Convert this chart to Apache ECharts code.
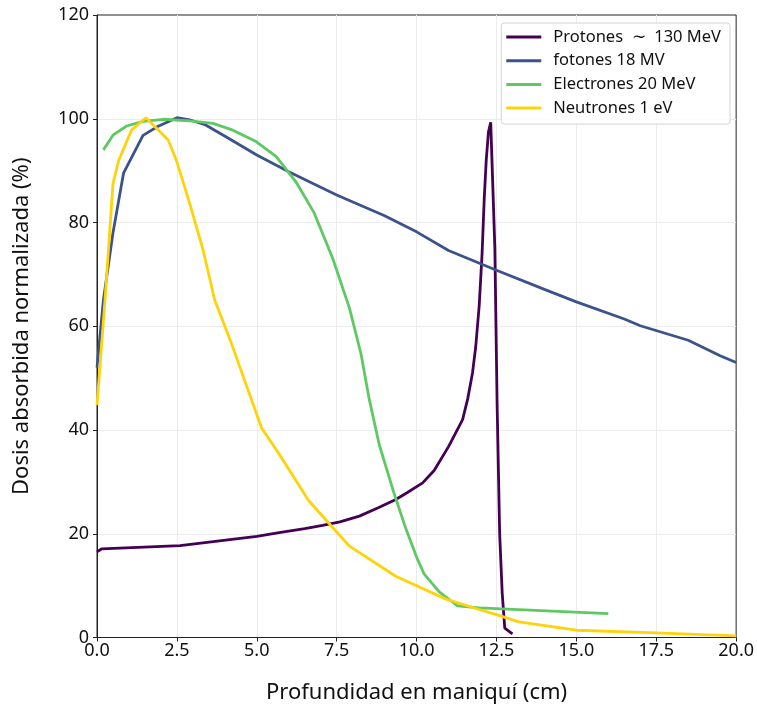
<!DOCTYPE html>
<html>
<head>
<meta charset="utf-8">
<script src="https://cdn.jsdelivr.net/npm/echarts@6/dist/echarts.min.js"></script>
<style>
  html, body { margin: 0; padding: 0; background: #fff; }
  #chart { width: 757px; height: 709px; }
</style>
</head>
<body>
<div id="chart"></div>
<script>
// Depth-dose curves: depth (cm) and normalised absorbed dose (%)
const protonDepth = [0, 0.15, 2.6, 5.0, 5.7, 6.5, 7.06, 7.6, 8.21, 8.8, 9.35, 9.7, 10.19, 10.55, 11.0, 11.44, 11.6, 11.75, 11.85, 11.96, 12.05, 12.12, 12.18, 12.25, 12.32, 12.38, 12.45, 12.52, 12.6, 12.68, 12.76, 13.0];
const protonDose  = [16.5, 17.1, 17.7, 19.5, 20.2, 21.0, 21.6, 22.3, 23.4, 25.0, 26.6, 27.9, 29.8, 32.2, 36.8, 42.0, 46.0, 51.0, 56.0, 64.0, 74.0, 85.0, 92.0, 97.5, 99.3, 99.0, 75.0, 45.0, 20.0, 8.5, 1.8, 0.7];

const photonDepth = [0, 0.2, 0.5, 0.83, 1.44, 1.9, 2.5, 2.9, 3.4, 4.1, 5.0, 6.0, 7.5, 9.0, 10.0, 11.0, 12.5, 14.0, 15.0, 16.5, 17.0, 18.5, 19.5, 20.0];
const photonDose  = [52.0, 65.0, 78.0, 89.5, 96.8, 98.5, 100.2, 99.8, 98.8, 96.3, 93.0, 89.8, 85.3, 81.3, 78.2, 74.6, 70.8, 67.1, 64.7, 61.4, 60.1, 57.3, 54.3, 53.0];

const electronDepth = [0.2, 0.51, 0.93, 1.44, 2.07, 2.9, 3.63, 4.25, 4.98, 5.61, 6.23, 6.8, 7.38, 7.9, 8.26, 8.52, 8.83, 9.3, 9.67, 10.0, 10.24, 10.71, 11.28, 11.96, 16.0];
const electronDose  = [94.0, 96.9, 98.6, 99.5, 99.9, 99.6, 99.1, 97.8, 95.6, 92.7, 87.8, 81.8, 73.0, 63.5, 54.7, 45.9, 37.2, 27.7, 20.9, 15.5, 12.2, 8.8, 6.1, 5.7, 4.6];

const neutronDepth = [0, 0.25, 0.5, 0.68, 1.08, 1.53, 2.23, 2.5, 2.9, 3.32, 3.68, 4.2, 5.15, 5.71, 6.62, 7.9, 9.35, 10.92, 11.96, 12.5, 13.2, 15.0, 17.5, 20.0];
const neutronDose  = [44.8, 65.0, 87.5, 92.0, 97.8, 100.2, 95.9, 91.7, 83.7, 74.7, 65.1, 56.8, 40.4, 35.3, 26.4, 17.6, 11.8, 7.4, 5.4, 4.4, 3.0, 1.4, 0.9, 0.3];

const seriesNames = ['Protones  \u223C  130 MeV', 'fotones 18 MV', 'Electrones 20 MeV', 'Neutrones 1 eV'];
const seriesColors = ['#440154', '#3b528b', '#5ec962', '#fdd30a'];

const pairs = (xs, ys) => xs.map((x, i) => [x, ys[i]]);
const curves = [
  pairs(protonDepth, protonDose),
  pairs(photonDepth, photonDose),
  pairs(electronDepth, electronDose),
  pairs(neutronDepth, neutronDose)
];

const FONT = 'Noto Sans';
const chart = echarts.init(document.getElementById('chart'), null, { renderer: 'canvas' });

chart.setOption({
  animation: false,
  backgroundColor: '#ffffff',
  textStyle: { fontFamily: FONT },
  grid: {
    left: 97, right: 19, top: 15, bottom: 71.5,
    show: true, borderColor: '#222', borderWidth: 1, backgroundColor: 'transparent'
  },
  legend: {
    orient: 'vertical',
    right: 27, top: 23,
    padding: [4, 9, 6, 5],
    itemGap: 3.7,
    itemWidth: 35,
    itemHeight: 3,
    icon: 'rect',
    backgroundColor: 'rgba(255,255,255,0.85)',
    borderColor: '#d4d4d4',
    borderWidth: 1,
    borderRadius: 3,
    textStyle: { fontFamily: FONT, fontSize: 16.5, color: '#111', padding: [0, 0, 0, 7], lineHeight: 20 },
    data: seriesNames
  },
  xAxis: {
    type: 'value',
    min: 0, max: 20, interval: 2.5,
    name: 'Profundidad en maniquí (cm)',
    nameLocation: 'middle',
    nameGap: 44,
    nameTextStyle: { fontFamily: FONT, fontSize: 22, color: '#111' },
    axisLine: { onZero: false, lineStyle: { color: '#222', width: 1 } },
    axisTick: { show: true, length: 4, lineStyle: { color: '#222' } },
    axisLabel: {
      fontFamily: FONT, fontSize: 18, color: '#111', margin: 4,
      formatter: v => Number(v).toFixed(1)
    },
    splitLine: { show: true, showMinLine: false, showMaxLine: false, lineStyle: { color: '#ececec', width: 1 } }
  },
  yAxis: {
    type: 'value',
    min: 0, max: 120, interval: 20,
    name: 'Dosis absorbida normalizada (%)',
    nameLocation: 'middle',
    nameGap: 64,
    nameTextStyle: { fontFamily: FONT, fontSize: 22, color: '#111' },
    axisLine: { show: true, lineStyle: { color: '#222', width: 1 } },
    axisTick: { show: true, length: 4, lineStyle: { color: '#222' } },
    axisLabel: { fontFamily: FONT, fontSize: 18, color: '#111', margin: 8 },
    splitLine: { show: true, showMinLine: false, showMaxLine: false, lineStyle: { color: '#ececec', width: 1 } }
  },
  series: curves.map((data, i) => ({
    name: seriesNames[i],
    type: 'line',
    data: data,
    showSymbol: false,
    symbol: 'none',
    smooth: false,
    clip: true,
    color: seriesColors[i],
    lineStyle: { color: seriesColors[i], width: 2.8 },
    z: 2 + i
  }))
});
</script>
</body>
</html>
